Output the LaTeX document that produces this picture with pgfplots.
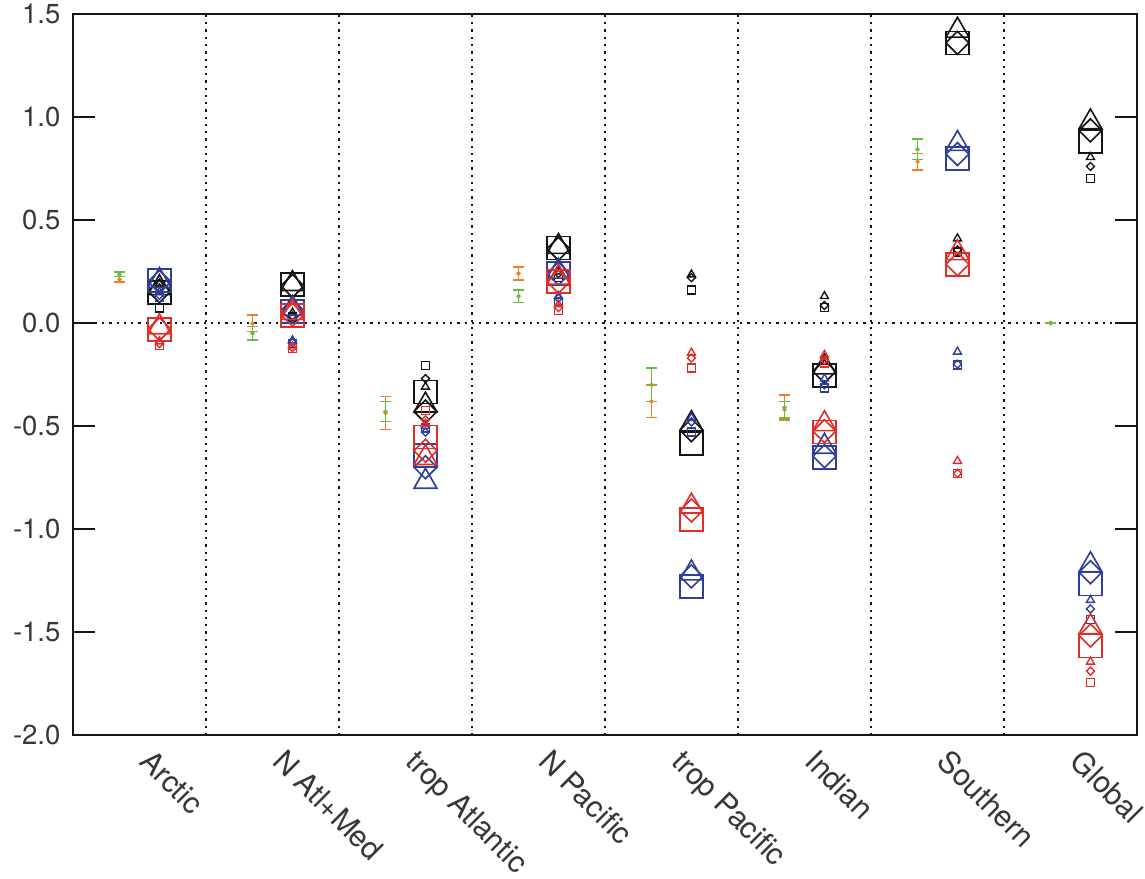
\documentclass[border=0pt]{standalone}
\usepackage{pgfplots}
\pgfplotsset{compat=1.18}
\usepackage{pgfplotstable}
\usepackage{fontspec}
\setmainfont{TeX Gyre Heros}

\definecolor{cblack}{RGB}{20,20,20}
\definecolor{cblue}{RGB}{45,62,155}
\definecolor{cred}{RGB}{225,45,40}
\definecolor{corange}{RGB}{240,125,40}
\definecolor{cgreen}{RGB}{100,190,70}

% columns: big triangle, big diamond, big square, small triangle, small diamond, small square
\pgfplotstableread{
x    T      D      S      t      d      s
0.65 0.17   0.155  0.148  0.19   0.17   0.073
1.65 0.19   0.18   0.187  0.05   0.035  0.03
2.65 -0.40  -0.43  -0.335 -0.31  -0.27  -0.205
3.65 0.37   0.36   0.364  0.25   0.24   0.22
4.65 -0.49  -0.52  -0.585 0.235  0.22   0.16
5.65 -0.215 -0.235 -0.255 0.13   0.085  0.075
6.65 1.42   1.36   1.36   0.41   0.355  0.345
7.65 0.975  0.935  0.88   0.805  0.76   0.70
}\blackdata

\pgfplotstableread{
x    T      D      S      t      d      s
0.65 0.205  0.20   0.207  0.15   0.135  0.125
1.65 0.07   0.06   0.056  -0.085 -0.095 -0.10
2.65 -0.77  -0.70  -0.643 -0.50  -0.53  -0.51
3.65 0.25   0.24   0.241  0.13   0.12   0.105
4.65 -1.215 -1.23  -1.28  -0.46  -0.48  -0.53
5.65 -0.60  -0.647 -0.653 -0.27  -0.30  -0.315
6.65 0.87   0.82   0.80   -0.14  -0.20  -0.204
7.65 -1.175 -1.21  -1.267 -1.345 -1.388 -1.44
}\bluedata

\pgfplotstableread{
x    T      D      S      t      d      s
0.65 -0.02  -0.03  -0.032 -0.09  -0.10  -0.11
1.65 0.05   0.04   0.037  -0.115 -0.12  -0.125
2.65 -0.655 -0.62  -0.553 -0.49  -0.47  -0.425
3.65 0.22   0.20   0.20   0.09   0.075  0.06
4.65 -0.89  -0.91  -0.955 -0.145 -0.17  -0.218
5.65 -0.49  -0.525 -0.53  -0.155 -0.18  -0.195
6.65 0.34   0.285  0.283  -0.67  -0.73  -0.73
7.65 -1.476 -1.517 -1.568 -1.645 -1.69  -1.745
}\reddata

\pgfplotstableread{
x    y      e
0.35 0.212  0.013
1.35 -0.002 0.04
2.35 -0.437 0.081
3.35 0.241  0.032
4.35 -0.38  0.079
5.35 -0.41  0.06
6.35 0.783  0.041
7.35 0.0    0.0
}\orangedata

\pgfplotstableread{
x    y      e
0.35 0.236  0.011
1.35 -0.05  0.032
2.35 -0.43  0.049
3.35 0.13   0.031
4.35 -0.30  0.081
5.35 -0.42  0.04
6.35 0.843  0.05
7.35 0.0    0.0
}\greendata

\pgfplotsset{
  bigT/.style={only marks, mark=triangle, mark size=5.3pt, mark options={solid, line width=0.65pt}},
  bigD/.style={only marks, mark=square, mark size=3.25pt, mark options={solid, rotate=45, line width=0.65pt}},
  bigS/.style={only marks, mark=square, mark size=4.6pt, mark options={solid, line width=0.65pt}},
  smT/.style={only marks, mark=triangle, mark size=1.85pt, mark options={solid, line width=0.55pt}},
  smD/.style={only marks, mark=square, mark size=1.13pt, mark options={solid, rotate=45, line width=0.55pt}},
  smS/.style={only marks, mark=square, mark size=1.6pt, mark options={solid, line width=0.55pt}},
  errbar/.style={color=#1, only marks, mark=*, mark size=0.7pt,
    /pgfplots/error bars/y dir=both,
    /pgfplots/error bars/y explicit,
    /pgfplots/error bars/error mark=|,
    /pgfplots/error bars/error bar style={line width=0.6pt, color=#1},
    /pgfplots/error bars/error mark options={color=#1, line width=0.6pt, mark size=2.2pt}},
}

\newcommand{\cluster}[2]{%
  \addplot[bigT, color=#2] table[x=x, y=T] {#1};
  \addplot[bigD, color=#2] table[x=x, y=D] {#1};
  \addplot[bigS, color=#2] table[x=x, y=S] {#1};
  \addplot[smT, color=#2] table[x=x, y=t] {#1};
  \addplot[smD, color=#2] table[x=x, y=d] {#1};
  \addplot[smS, color=#2] table[x=x, y=s] {#1};
}

\begin{document}
\begin{tikzpicture}
\begin{axis}[
  scale only axis,
  width=425.6pt, height=288.4pt,
  xmin=0, xmax=8, ymin=-2, ymax=1.5,
  axis line style={line width=0.6pt, cblack},
  tick style={line width=0.5pt, cblack},
  major tick length=8.8pt,
  xtick={0.5,1.5,2.5,3.5,4.5,5.5,6.5,7.5},
  xticklabels={Arctic, N Atl+Med, trop Atlantic, N Pacific, trop Pacific, Indian, Southern, Global},
  major x tick style={draw=none},
  ytick={-2,-1.5,-1,-0.5,0,0.5,1,1.5},
  yticklabels={-2.0,-1.5,-1.0,-0.5,0.0,0.5,1.0,1.5},
  yticklabel style={xshift=-1.5pt},
  tick label style={font=\fontsize{11}{13}\selectfont, text=cblack!85},
  xticklabel style={xshift=5.7pt, yshift=-4.8pt, rotate=-45, anchor=north west, inner sep=0pt,
    font=\fontsize{12}{14}\selectfont},
  extra x ticks={1,2,3,4,5,6,7},
  extra x tick labels={},
  extra x tick style={grid=major, major grid style={cblack, line width=0.9pt, dash pattern=on 0.9pt off 2pt}},
  extra y ticks={0},
  extra y tick labels={},
  extra y tick style={grid=major, major grid style={cblack, line width=0.9pt, dash pattern=on 0.9pt off 2pt}},
  clip=false,
]
\addplot[errbar=corange] table[x=x, y=y, y error=e] {\orangedata};
\addplot[errbar=cgreen] table[x=x, y=y, y error=e] {\greendata};
\cluster{\blackdata}{cblack}
\cluster{\bluedata}{cblue}
\cluster{\reddata}{cred}
\end{axis}
\pgfresetboundingbox
\path ([shift={(-29.2pt,-57.2pt)}]current axis.south west) rectangle ++(458pt,351.2pt);
\end{tikzpicture}
\end{document}
